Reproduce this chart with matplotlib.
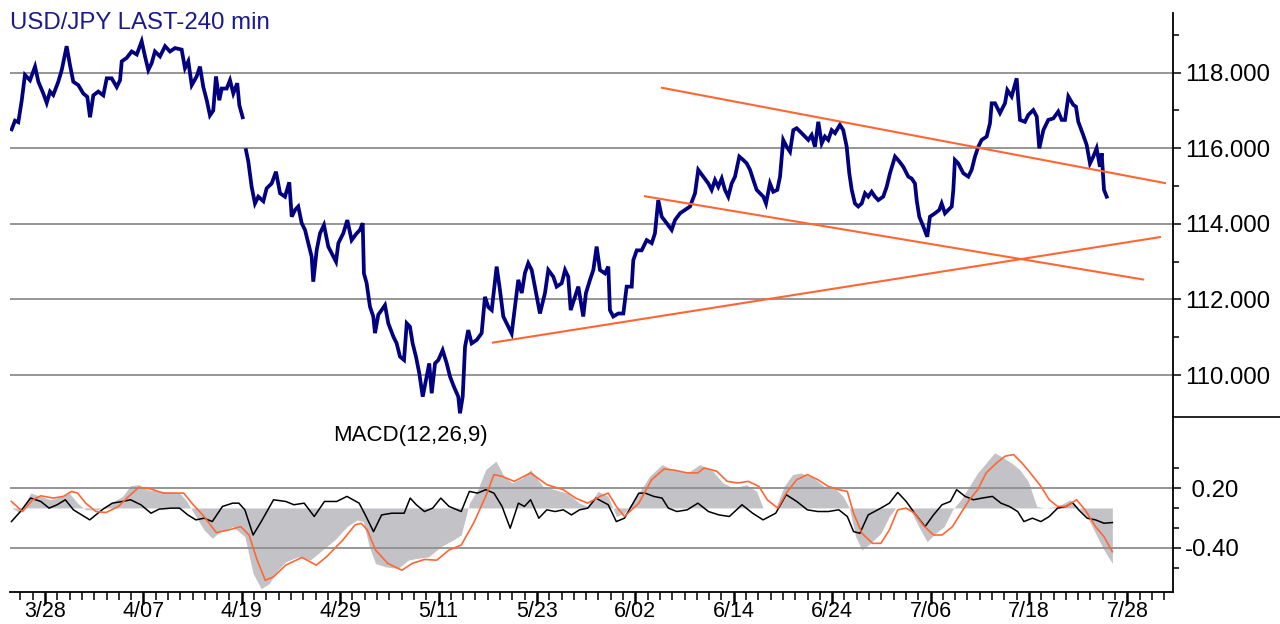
import matplotlib
matplotlib.use("Agg")
import matplotlib.pyplot as plt
import numpy as np

plt.rcParams['font.family'] = ['Liberation Sans', 'DejaVu Sans']

title = "USD/JPY LAST-240 min"
macd_label = "MACD(12,26,9)"

# trading-day index (0 = 3/28)
price_day = [-2.71, -2.44, -2.17, -1.89, -1.63, -1.22, -0.81, -0.54, -0.14, 0.14, 0.41, 0.67, 1.08, 1.36, 1.76, 2.03, 2.30, 2.71, 3.11, 3.44, 3.66, 3.93, 4.33, 4.74, 5.02, 5.42, 5.83, 6.10, 6.24, 6.64, 7.05, 7.46, 7.86, 8.13, 8.40, 8.67, 8.94, 9.35, 9.76, 10.16, 10.57, 11.11, 11.38, 11.65, 11.93, 12.33, 12.60, 12.87, 13.15, 13.41, 13.68, 13.90, 14.17, 14.37, 14.77, 15.04, 15.31, 15.63, 15.80, 16.07, 16.20,
             16.34, 16.53, 16.80, 17.07, 17.34, 17.75, 18.02, 18.43, 18.78, 19.11, 19.51, 19.86, 20.06, 20.33, 20.59, 20.87, 21.14, 21.41, 21.68, 21.81, 22.09, 22.36, 22.68, 23.03, 23.31, 23.66, 23.85, 24.25, 24.58, 24.93, 25.34, 25.61, 25.83, 25.93, 26.15, 26.42, 26.69, 26.83, 27.10, 27.37, 27.64, 27.91, 28.32, 28.59, 28.86, 29.19, 29.41, 29.67, 29.89, 30.16, 30.43, 30.71, 31.03, 31.24, 31.44, 31.71, 31.98, 32.33, 32.66, 32.93, 33.25, 33.60, 33.74, 33.96, 34.15, 34.41, 34.69, 35.10,
             35.50, 35.77, 36.04, 36.32, 36.72, 36.99, 37.26, 37.67, 37.94, 38.21, 38.48, 38.76, 39.02, 39.29, 39.57, 39.98, 40.24, 40.65, 40.92, 41.33, 41.60, 42.01, 42.28, 42.54, 42.74, 43.09, 43.36, 43.76, 43.98, 44.31, 44.58, 44.85, 45.12, 45.53, 45.80, 45.93, 46.20, 46.61, 47.02, 47.29, 47.70, 47.83, 48.11, 48.51, 48.92, 49.33, 49.59, 49.86, 50.14, 50.54, 50.95, 51.22, 51.63, 52.03, 52.44, 52.85, 53.11, 53.52,
             53.93, 54.20, 54.47, 54.74, 55.02, 55.28, 55.55, 55.83, 56.10, 56.45, 56.77, 57.05, 57.32, 57.59, 57.86, 58.13, 58.40, 58.62, 58.94, 59.21, 59.54, 59.76, 60.02, 60.30, 60.57, 60.84, 61.11, 61.52, 61.79, 62.06, 62.33, 62.60, 62.87, 63.15, 63.41, 63.68, 63.96, 64.23, 64.63, 64.90, 65.18, 65.39, 65.59, 65.85, 66.12, 66.40, 66.67, 66.93, 67.21, 67.48, 67.75, 68.15, 68.43, 68.70, 69.11, 69.46, 69.78, 70.19, 70.46, 70.73, 70.87, 71.08, 71.41, 71.73, 71.95, 72.36, 72.71,
             72.90, 73.17, 73.44, 73.72, 73.85, 73.98, 74.25, 74.66, 75.07, 75.34, 75.61, 75.88, 76.15, 76.56, 76.83, 76.97, 77.24, 77.64, 78.05, 78.24, 78.59, 79.00, 79.13, 79.27, 79.67, 79.94, 80.35, 80.63, 80.84, 81.17, 81.57, 81.98, 82.38, 82.66, 82.93, 83.20, 83.60, 83.82, 84.01, 84.41, 84.69, 84.96, 85.23, 85.50, 85.77, 85.91, 86.10, 86.32]
price_val = [116.50, 116.73, 116.69, 117.27, 117.94, 117.80, 118.16, 117.76, 117.45, 117.20, 117.50, 117.41, 117.76, 118.07, 118.70, 118.20, 117.76, 117.67, 117.45, 117.36, 116.82, 117.40, 117.50, 117.40, 117.85, 117.85, 117.62, 117.80, 118.30, 118.39, 118.56, 118.48, 118.83, 118.43, 118.07, 118.25, 118.56, 118.43, 118.70, 118.56, 118.65, 118.61, 118.12, 118.30, 117.67, 117.90, 118.16, 117.62, 117.27, 116.87, 117.00, 117.90, 117.27, 117.58, 117.58, 117.80, 117.45, 117.72, 117.14, 116.82, np.nan,
             115.95, 115.65, 114.98, 114.54, 114.72, 114.60, 114.94, 115.07, 115.38, 114.81, 114.72, 115.10, 114.19, 114.37, 114.46, 114.02, 113.84, 113.49, 113.13, 112.47, 113.31, 113.75, 113.97, 113.40, 113.22, 113.00, 113.49, 113.75, 114.10, 113.57, 113.75, 113.84, 114.02, 112.69, 112.43, 111.81, 111.55, 111.11, 111.60, 111.72, 111.85, 111.37, 111.02, 110.84, 110.49, 110.40, 111.37, 111.28, 110.84, 110.49, 110.05, 109.43, 109.96, 110.31, 109.52, 110.31, 110.40, 110.66, 110.31, 109.96, 109.69, 109.43, 108.99, 109.43, 110.75, 111.19, 110.84, 110.93,
             111.11, 112.07, 111.80, 111.72, 112.87, 112.25, 111.55, 111.28, 111.10, 111.80, 112.52, 112.17, 112.70, 112.96, 112.78, 112.07, 111.63, 112.17, 112.78, 112.60, 112.34, 112.43, 112.78, 112.60, 111.72, 112.07, 112.34, 111.55, 112.17, 112.52, 112.78, 113.40, 112.78, 112.69, 112.87, 111.72, 111.55, 111.63, 111.63, 112.34, 112.34, 113.04, 113.30, 113.30, 113.57, 113.49, 113.75, 114.63, 114.19, 114.02, 113.84, 114.10, 114.28, 114.37, 114.46, 114.81, 115.43, 115.25,
             115.07, 114.90, 115.16, 114.98, 115.20, 114.90, 114.72, 115.07, 115.25, 115.78, 115.69, 115.60, 115.43, 115.16, 114.90, 114.81, 114.72, 114.54, 115.07, 114.85, 114.90, 115.25, 116.22, 116.04, 115.91, 116.48, 116.53, 116.40, 116.31, 116.22, 116.35, 116.04, 116.70, 116.13, 116.31, 116.22, 116.48, 116.40, 116.62, 116.48, 116.04, 115.34, 114.90, 114.54, 114.46, 114.54, 114.81, 114.72, 114.85, 114.72, 114.63, 114.72, 114.98, 115.34, 115.78, 115.65, 115.51, 115.25, 115.20, 115.07, 114.63, 114.19, 113.93, 113.66, 114.19, 114.28, 114.37,
             114.54, 114.28, 114.37, 114.46, 114.90, 115.69, 115.60, 115.34, 115.25, 115.43, 115.78, 116.04, 116.22, 116.31, 116.66, 117.19, 117.19, 116.93, 117.19, 117.54, 117.37, 117.85, 117.28, 116.75, 116.70, 116.88, 117.01, 116.84, 116.00, 116.48, 116.75, 116.79, 116.97, 116.75, 116.75, 117.37, 117.15, 117.10, 116.70, 116.35, 116.09, 115.60, 115.78, 116.00, 115.51, 115.87, 114.90, 114.72]

# trend lines (day, price)
upper_trend_day = [50.16, 91.06]
upper_trend_val = [117.60, 115.08]
lower_trend_day = [48.78, 89.27]
lower_trend_val = [114.73, 112.53]
rising_trend_day = [36.42, 90.65]
rising_trend_val = [110.86, 113.65]

# MACD panel
macd_day = [-2.73, -2.0, -1.17, -0.34, 0.49, 1.32, 1.98, 2.65, 3.31, 4.31, 5.30, 6.30, 6.96, 7.63, 8.29, 9.62, 10.94, 11.44, 12.27, 12.93, 13.60, 14.26, 15.26, 16.25, 16.92, 17.58, 18.24, 18.91, 19.57, 20.57, 21.56, 22.56, 23.55, 24.55, 25.38, 25.87, 26.37, 26.87, 27.70, 28.70, 29.53, 30.19, 31.19, 32.18, 33.18, 33.84, 34.50, 35.17, 35.83, 36.66, 37.32, 37.98, 38.82, 39.48, 40.48, 41.47, 42.46, 43.46, 44.13, 44.96, 45.79, 46.45, 47.11,
            48.28, 49.15, 50.17, 51.02, 52.22, 53.25, 54.28, 55.13, 55.98, 57.02, 57.87, 58.38, 59.41, 60.09, 60.78, 61.46, 62.49, 63.34, 64.20, 64.89, 65.40, 65.91, 66.42, 67.10, 67.96, 68.65, 69.16, 69.67, 70.36, 71.04, 71.72, 72.41, 73.10, 73.78, 74.46, 75.15, 75.83, 76.52, 77.20, 77.72, 78.57, 79.25, 79.94, 80.63, 81.31, 82.33, 83.36, 84.04, 84.73, 85.41, 86.10, 86.78]
macd_val = [0.0, -0.05, 0.149, 0.116, 0.082, 0.116, 0.149, 0.048, -0.019, -0.019, 0.048, 0.116, 0.224, 0.234, 0.183, 0.166, 0.149, 0.082, -0.086, -0.221, -0.305, -0.238, -0.188, -0.289, -0.659, -0.811, -0.760, -0.626, -0.541, -0.491, -0.525, -0.423, -0.322, -0.188, -0.120, -0.137, -0.390, -0.558, -0.592, -0.609, -0.525, -0.508, -0.491, -0.390, -0.322, -0.272, 0.048, 0.183, 0.385, 0.470, 0.318, 0.251, 0.301, 0.385, 0.217, 0.183, 0.149, 0.048, 0.015, 0.166, 0.116, -0.086, -0.053,
            0.149, 0.318, 0.436, 0.385, 0.352, 0.436, 0.369, 0.251, 0.200, 0.234, 0.166, 0.0, 0.0, 0.217, 0.335, 0.352, 0.301, 0.217, 0.200, 0.116, 0.0, -0.289, -0.423, -0.356, -0.255, -0.086, 0.0, 0.0, -0.019, -0.188, -0.339, -0.255, -0.188, -0.019, 0.082, 0.217, 0.352, 0.453, 0.554, 0.520, 0.453, 0.385, 0.267, 0.015, 0.0, 0.015, 0.082, 0.0, -0.086, -0.255, -0.423, -0.558]

signal_day = [-2.73, -1.83, -1.0, -0.34, 0.66, 1.49, 2.15, 2.65, 3.31, 4.14, 4.97, 5.97, 6.80, 7.63, 8.62, 9.62, 11.28, 11.94, 12.93, 13.93, 14.93, 15.92, 16.59, 17.25, 17.91, 18.58, 19.57, 20.89, 22.06, 22.89, 24.22, 25.21, 25.71, 26.20, 26.87, 27.87, 29.02, 29.85, 30.85, 31.85, 32.85, 33.84, 34.84, 35.83, 36.50, 37.16, 38.15, 39.48, 40.80, 42.14, 43.13, 44.13, 45.12, 45.79, 46.45, 47.11,
              48.28, 49.32, 50.34, 51.20, 52.22, 53.08, 53.59, 54.62, 55.47, 56.33, 57.19, 58.04, 58.72, 59.58, 60.26, 61.12, 61.98, 62.83, 63.68, 64.54, 65.23, 65.74, 66.42, 67.28, 67.96, 68.65, 69.33, 70.02, 70.70, 71.38, 72.24, 72.93, 73.78, 74.46, 75.15, 75.83, 76.52, 77.37, 78.06, 78.74, 79.42, 80.11, 80.97, 81.65, 82.33, 83.02, 83.87, 84.56, 85.41, 86.10, 86.78]
signal_val = [0.065, -0.036, 0.082, 0.122, 0.099, 0.116, 0.166, 0.149, 0.048, -0.036, -0.046, 0.015, 0.116, 0.207, 0.190, 0.149, 0.149, 0.048, -0.086, -0.248, -0.221, -0.188, -0.272, -0.525, -0.727, -0.693, -0.575, -0.498, -0.575, -0.491, -0.322, -0.171, -0.154, -0.221, -0.423, -0.558, -0.626, -0.558, -0.518, -0.525, -0.423, -0.373, -0.154, 0.116, 0.335, 0.318, 0.267, 0.352, 0.234, 0.183, 0.099, 0.048, 0.116, 0.149, 0.015, -0.086,
              0.048, 0.284, 0.392, 0.379, 0.352, 0.352, 0.402, 0.369, 0.267, 0.251, 0.267, 0.217, 0.082, -0.002, 0.149, 0.284, 0.335, 0.284, 0.217, 0.183, 0.166, -0.053, -0.255, -0.356, -0.356, -0.221, -0.019, -0.002, -0.053, -0.171, -0.272, -0.272, -0.188, -0.053, 0.082, 0.183, 0.352, 0.453, 0.520, 0.537, 0.453, 0.352, 0.217, 0.082, 0.015, 0.015, 0.082, -0.019, -0.188, -0.289, -0.440]

hist_day = [-2.73, -2.0, -1.17, -0.34, 0.33, 0.99, 1.65, 2.31, 2.98, 3.64, 4.64, 5.47, 6.30, 6.96, 7.79, 8.62, 9.28, 10.28, 10.94, 11.61, 12.27, 12.93, 13.60, 14.43, 15.26, 15.76, 16.25, 16.92, 17.58, 18.58, 19.57, 20.24, 21.07, 21.89, 22.72, 23.72, 24.55, 25.54, 26.04, 26.71, 27.37, 28.20, 29.20, 29.69, 30.19, 30.85, 31.52, 32.18, 32.85, 33.84, 34.50, 35.17, 35.83, 36.50, 37.16, 37.82, 38.49, 38.98, 39.48, 40.15, 40.80, 41.47, 42.14, 42.80, 43.46, 44.13, 44.79, 45.79, 46.45, 47.11,
            48.28, 48.80, 49.49, 50.17, 50.68, 51.37, 52.22, 53.08, 53.94, 54.79, 55.64, 56.67, 57.53, 58.38, 59.41, 60.26, 61.12, 61.98, 62.83, 63.68, 64.54, 65.23, 65.74, 66.25, 66.93, 67.96, 68.65, 69.33, 70.02, 70.70, 71.55, 72.24, 72.93, 73.61, 74.12, 74.81, 75.49, 76.18, 77.03, 77.72, 78.40, 79.08, 79.59, 80.28, 80.97, 81.65, 82.33, 83.02, 83.53, 84.04, 84.73, 85.41, 86.10, 86.78]
hist_val = [-0.137, -0.036, 0.099, 0.065, -0.002, 0.032, 0.082, -0.019, -0.070, -0.120, -0.019, 0.048, 0.065, 0.082, 0.032, -0.053, -0.012, -0.002, -0.002, -0.070, -0.120, -0.103, -0.137, 0.015, 0.048, 0.048, -0.019, -0.272, -0.137, 0.082, 0.065, 0.032, 0.048, -0.086, 0.065, 0.065, 0.116, 0.048, -0.070, -0.238, -0.070, -0.053, -0.053, 0.099, 0.032, -0.036, -0.002, 0.099, 0.015, -0.036, 0.166, 0.149, 0.183, 0.149, 0.015, -0.204, 0.048, 0.015, 0.082, -0.103, -0.019, -0.036, -0.019, -0.070, -0.019, -0.002, 0.099, 0.032, -0.137, -0.103,
            0.149, 0.149, 0.116, 0.099, -0.002, -0.036, -0.019, 0.048, -0.036, -0.070, -0.086, 0.032, -0.053, -0.120, -0.053, 0.133, 0.065, -0.019, -0.036, -0.036, -0.019, -0.086, -0.238, -0.255, -0.070, -0.002, 0.048, 0.156, 0.065, -0.053, -0.188, -0.070, 0.032, 0.065, 0.183, 0.116, 0.082, 0.099, 0.116, 0.048, 0.015, -0.036, -0.137, -0.103, -0.137, -0.086, -0.002, 0.015, 0.055, -0.019, -0.103, -0.120, -0.154, -0.147]

date_labels = ['3/28', '4/07', '4/19', '4/29', '5/11', '5/23', '6/02', '6/14', '6/24', '7/06', '7/18', '7/28']
date_label_days = [0, 8, 16, 24, 32, 40, 48, 56, 64, 72, 80, 88]
price_ticks = [110, 112, 114, 116, 118]
price_tick_labels = ['110.000', '112.000', '114.000', '116.000', '118.000']
price_minor = [111, 113, 115, 117, 119]
macd_ticks = [0.2, -0.4]
macd_tick_labels = [' 0.20', '-0.40']
macd_minor = [0.4, 0.0, -0.2, -0.6]

NAVY = '#000080'
ORANGE = '#ff6633'
GRID = '#8e8e8e'
FS = 17.3
PX = 0.72  # points per pixel at 100 dpi

fig = plt.figure(figsize=(12.8, 6.24), dpi=100)
W, H = 1280.0, 624.0
L, R = 10, 1173
ax1 = fig.add_axes([L / W, 1 - 416.7 / H, (R - L) / W, (416.7 - 13.3) / H])
ax2 = fig.add_axes([L / W, 1 - 592 / H, (R - L) / W, (592 - 416.7) / H])

xmin, xmax = -2.846, 91.71
for ax in (ax1, ax2):
    ax.set_xlim(xmin, xmax)
    ax.set_facecolor('white')
    for s in ('top', 'left'):
        ax.spines[s].set_visible(False)
    ax.spines['right'].set_color('black')
    ax.spines['right'].set_linewidth(1.3)
    ax.yaxis.tick_right()
    ax.tick_params(axis='y', which='major', length=8 * PX, width=1.1, pad=4 * PX, labelsize=FS, colors='black')
    ax.tick_params(axis='y', which='minor', length=6 * PX, width=1.1)

# price panel
ax1.spines['bottom'].set_visible(False)
ax1.set_ylim(108.90, 119.57)
ax1.set_yticks(price_ticks, labels=price_tick_labels)
ax1.set_yticks(price_minor, minor=True)
ax1.set_xticks([])
for v in price_ticks:
    ax1.axhline(v, color=GRID, lw=1.3, zorder=1)
ax1.plot(price_day, price_val, color=NAVY, lw=2.7, zorder=3, solid_joinstyle='miter')
for d, v in ((upper_trend_day, upper_trend_val), (lower_trend_day, lower_trend_val), (rising_trend_day, rising_trend_val)):
    ax1.plot(d, v, color=ORANGE, lw=1.5, zorder=4)
ax1.text(0.0, 1.0 + 1.0 / 403.4, title, transform=ax1.transAxes, ha='left', va='top',
         fontsize=FS, color='#1a1a90')
# separator on the right side
ax1.plot([1.0, 1.2], [0.0, 0.0], transform=ax1.transAxes, color='black', lw=1.2, clip_on=False)

# MACD panel
ax2.spines['bottom'].set_color('black')
ax2.spines['bottom'].set_linewidth(1.3)
ax2.set_ylim(-0.845, 0.917)
ax2.set_yticks(macd_ticks, labels=macd_tick_labels)
ax2.set_yticks(macd_minor, minor=True)
ax2.fill_between(macd_day, 0, macd_val, color='#c3c3c7', lw=0, zorder=1)
for v in macd_ticks:
    ax2.axhline(v, color=GRID, lw=1.3, zorder=2)
ax2.plot(hist_day, hist_val, color='black', lw=1.1, zorder=3)
ax2.plot(signal_day, signal_val, color=ORANGE, lw=1.2, zorder=4)
ax2.text(0.344, 0.895, macd_label, transform=ax2.transAxes, ha='center', va='center', fontsize=16, color='black')

ax2.set_xticks(date_label_days, labels=date_labels)
ax2.set_xticks(np.arange(-2, 92, 1), minor=True)
ax2.tick_params(axis='x', which='major', length=12 * PX, width=1.8, pad=-2, labelsize=15.5, colors='black')
ax2.tick_params(axis='x', which='minor', length=8 * PX, width=1.1)

fig.savefig('out.png', dpi=100, facecolor='white')
